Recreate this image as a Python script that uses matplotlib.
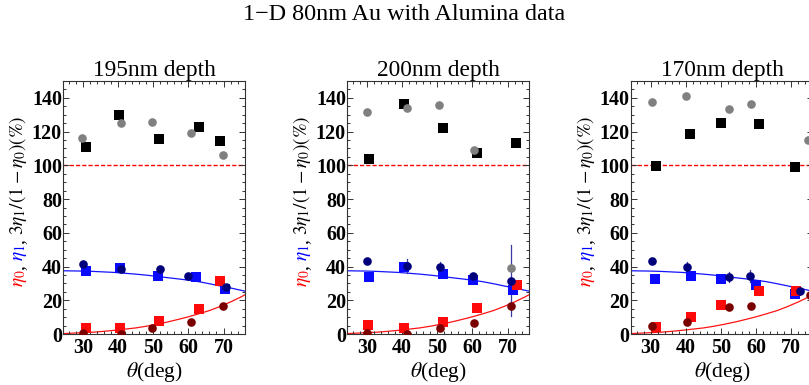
import matplotlib
matplotlib.use('Agg')
import numpy as np
import matplotlib.pyplot as plt
from matplotlib.ticker import MultipleLocator

plt.rcParams['font.family'] = 'Liberation Serif'
plt.rcParams['mathtext.fontset'] = 'stix'

# panel titles
depths = ['195nm depth', '200nm depth', '170nm depth']
x_ticks = [30, 40, 50, 60, 70]
y_ticks = [0, 20, 40, 60, 80, 100, 120, 140]

# theory curves (same in every panel)
th_theta = [24, 27, 30, 33, 36, 39, 42, 45, 48, 51, 54, 57, 60, 63, 66, 69, 72, 75, 77]
th_eta1 = [37.5, 37.4, 37.3, 37.1, 36.8, 36.5, 36.0, 35.5, 34.9, 34.2, 33.4, 32.7, 31.9, 31.0, 29.8, 28.5, 27.3, 25.9, 25.0]
th_eta0 = [0.2, 0.5, 0.8, 1.1, 1.6, 2.2, 2.9, 3.6, 4.6, 5.8, 7.1, 8.6, 10.2, 12.0, 13.9, 16.3, 19.0, 22.0, 24.3]

# 195nm depth: (theta, value)
sq195_ratio = [(31.0, 110.6), (40.3, 129.6), (51.5, 115.7), (63.1, 122.6), (69.1, 114.3)]
ci195_ratio = [(29.7, 116.5), (40.9, 125.0), (49.7, 125.8), (60.8, 118.9), (69.8, 106.0)]
sq195_eta1 = [(31.0, 37.4), (40.4, 39.2), (51.4, 34.4), (62.1, 34.0), (70.3, 26.7)]
ci195_eta1 = [(30.0, 41.3), (40.9, 38.6), (51.9, 38.8), (60.0, 34.4), (70.8, 27.7)]
ci195_err = [0, 0, 0, 0, 0]
sq195_eta0 = [(31.0, 3.8), (40.4, 3.4), (51.5, 7.7), (63.1, 14.6), (69.1, 31.4)]
ci195_eta0 = [(30.0, 0.4), (40.9, 0.0), (49.7, 3.6), (60.8, 7.3), (69.8, 16.8)]

# 200nm depth
sq200_ratio = [(30.5, 103.9), (40.5, 136.1), (51.5, 122.3), (61.3, 107.6), (72.3, 113.4)]
ci200_ratio = [(29.9, 131.8), (41.4, 133.9), (50.6, 135.5), (60.4, 109.0), (70.9, 39.2)]
sq200_eta1 = [(30.7, 33.8), (40.5, 39.6), (51.7, 35.4), (60.3, 31.9), (71.6, 26.1)]
ci200_eta1 = [(29.9, 43.5), (41.3, 40.2), (50.7, 39.8), (60.3, 34.4), (70.9, 31.6)]
ci200_err = [0, 4, 3, 0, 21]
sq200_eta0 = [(30.4, 5.2), (40.5, 3.6), (51.6, 7.3), (61.2, 15.2), (72.6, 29.1)]
ci200_eta0 = [(29.9, 0.4), (41.4, 0.0), (50.7, 3.6), (60.4, 6.5), (70.9, 16.8)]

# 170nm depth
sq170_ratio = [(31.4, 99.9), (41.3, 118.7), (50.1, 125.2), (60.8, 124.6), (71.1, 99.3)]
ci170_ratio = [(30.4, 137.3), (40.1, 141.0), (52.2, 133.5), (58.5, 136.3), (74.9, 115.3)]
sq170_eta1 = [(31.3, 32.8), (41.4, 34.2), (50.1, 32.6), (60.1, 29.1), (71.2, 23.6)]
ci170_eta1 = [(30.3, 43.5), (40.2, 39.8), (52.2, 34.0), (58.3, 34.2), (72.5, 25.5)]
ci170_err = [0, 3, 3, 3.5, 0]
sq170_eta0 = [(31.4, 4.2), (41.4, 9.9), (50.1, 17.0), (60.9, 25.7), (71.3, 25.5)]
ci170_eta0 = [(30.4, 4.9), (40.2, 6.9), (52.2, 16.2), (58.6, 16.8), (75.3, 23.3)]

panels = [
    (sq195_ratio, ci195_ratio, sq195_eta1, ci195_eta1, ci195_err, sq195_eta0, ci195_eta0),
    (sq200_ratio, ci200_ratio, sq200_eta1, ci200_eta1, ci200_err, sq200_eta0, ci200_eta0),
    (sq170_ratio, ci170_ratio, sq170_eta1, ci170_eta1, ci170_err, sq170_eta0, ci170_eta0),
]

W, H = 809, 385
fig = plt.figure(figsize=(W / 100, H / 100), dpi=100)
fig.patch.set_facecolor('white')

fig.text(0.5, 1 - 14 / H, '1\u2212D 80nm Au with Alumina data', ha='center', va='center', fontsize=17.4)

lefts = [63.3, 347.3, 631.0]
top, aw, ah = 81, 182, 253

def pts(ax, data, marker, color, ms, z):
    xs = [p[0] for p in data]
    ys = [p[1] for p in data]
    ax.plot(xs, ys, ls='none', marker=marker, color=color, ms=ms, mew=0, zorder=z)
    return xs, ys

renderer = fig.canvas.get_renderer()

for i, (sq_r, ci_r, sq_1, ci_1, err1, sq_0, ci_0) in enumerate(panels):
    ax = fig.add_axes([lefts[i] / W, 1 - (top + ah) / H, aw / W, ah / H])
    ax.set_xlim(24.4, 76.2)
    ax.set_ylim(0, 150)

    ax.plot(th_theta, th_eta1, color='#1414ff', lw=0.9, zorder=1)
    ax.plot(th_theta, th_eta0, color='#ff1414', lw=0.9, zorder=1)
    ax.axhline(100, color='#ff0000', ls=(0, (3, 1.5)), lw=1.0, zorder=1)

    pts(ax, sq_r, 's', 'black', 7.4, 3)
    pts(ax, sq_1, 's', '#0a0aff', 7.4, 3)
    pts(ax, sq_0, 's', '#ff0a0a', 7.4, 3)
    xs, ys = pts(ax, ci_1, 'o', '#00007a', 6.2, 4)
    for x, y, e in zip(xs, ys, err1):
        if e > 0:
            ax.plot([x, x], [y - e, y + e], color='#3a3aa0', lw=0.9, zorder=2)
    pts(ax, ci_r, 'o', '#808080', 6.2, 4)
    pts(ax, ci_0, 'o', '#7a0000', 6.2, 4)

    ax.set_xticks(x_ticks)
    ax.set_xticklabels([str(t) for t in x_ticks], fontweight='bold')
    ax.set_yticks(y_ticks)
    ax.set_yticklabels([str(t) for t in y_ticks], fontweight='bold')
    ax.xaxis.set_minor_locator(MultipleLocator(2))
    ax.yaxis.set_minor_locator(MultipleLocator(5))
    ax.tick_params(which='both', direction='in', top=True, right=True,
                   labelsize=14.5, color='#333333', width=0.7)
    ax.tick_params(axis='x', pad=3)
    ax.tick_params(axis='y', pad=1)
    ax.tick_params(which='major', length=4)
    ax.tick_params(which='minor', length=2)
    for s in ax.spines.values():
        s.set_color('#333333')
        s.set_linewidth(0.8)

    ax.set_title(depths[i], fontsize=16.8, pad=3)
    ax.set_xlabel(r'$\theta$(deg)', fontsize=15.5, labelpad=1)

    # coloured y label built from pieces: (text, colour, gap after in px)
    pieces = [(r'$\eta_0$', 'red', 0), (',', 'black', 4), (r'$\eta_1$', 'blue', 0),
              (',', 'black', 4), (r'$3\eta_1/(1-\eta_0)(\%)$', 'black', 0)]
    bx = (lefts[i] - 40) / W
    texts = []
    total = 0
    for s, c, gap in pieces:
        t = fig.text(bx, 0, s, color=c, fontsize=14, rotation=90,
                     rotation_mode='anchor', ha='left', va='baseline')
        bb = t.get_window_extent(renderer)
        texts.append((t, bb.height + gap))
        total += bb.height + gap
    ymid = H - 201.5
    y = ymid - total / 2
    for t, hgt in texts:
        t.set_position((bx, y / H))
        y += hgt

fig.savefig('out.png', dpi=100)
